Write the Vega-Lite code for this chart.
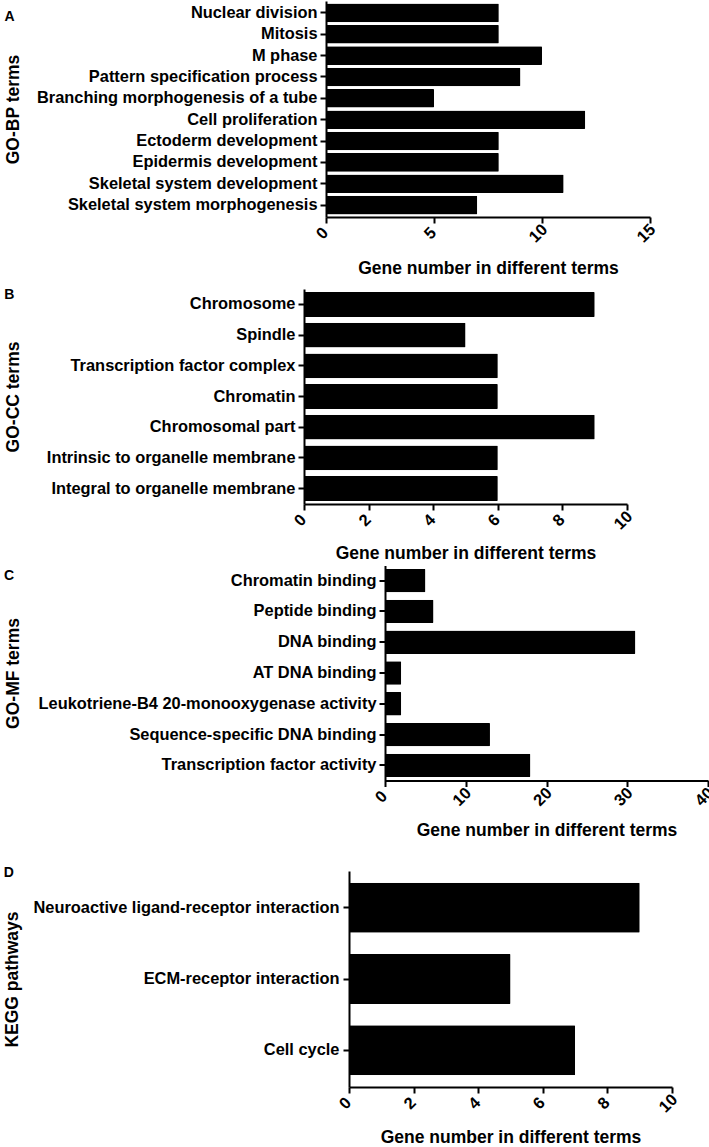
{
  "$schema": "https://vega.github.io/schema/vega-lite/v6.json",
  "padding": {"left": 3, "top": 1, "right": 0, "bottom": 0},
  "background": "white",
  "config": {
    "view": {"stroke": null},
    "font": "Liberation Sans",
    "axis": {
      "grid": false,
      "domainColor": "black",
      "domainWidth": 2,
      "tickColor": "black",
      "tickWidth": 2,
      "tickSize": 6,
      "labelColor": "black",
      "labelFont": "Liberation Sans",
      "labelFontWeight": "bold",
      "labelFontSize": 16.4,
      "titleColor": "black",
      "titleFont": "Liberation Sans",
      "titleFontWeight": "bold",
      "titleFontSize": 17.5
    },
    "axisY": {"labelPadding": 3, "labelLimit": 600, "maxExtent": 600},
    "axisX": {"labelAngle": -45, "labelAlign": "center", "labelBaseline": "middle", "labelOffset": -4, "labelPadding": 10},
    "title": {"anchor": "start", "frame": "bounds", "fontSize": 14, "fontWeight": "bold", "font": "Liberation Sans", "color": "black"}
  },
  "columns": 1,
  "spacing": 10,
  "concat": [
    {
      "width": 346,
      "height": 216,
      "title": {"text": "A", "offset": -23},
      "data": {"values": [
        {"term": "Nuclear division", "genes": 8},
        {"term": "Mitosis", "genes": 8},
        {"term": "M phase", "genes": 10},
        {"term": "Pattern specification process", "genes": 9},
        {"term": "Branching morphogenesis of a tube", "genes": 5},
        {"term": "Cell proliferation", "genes": 12},
        {"term": "Ectoderm development", "genes": 8},
        {"term": "Epidermis development", "genes": 8},
        {"term": "Skeletal system development", "genes": 11},
        {"term": "Skeletal system morphogenesis", "genes": 7}
      ]},
      "mark": {"type": "bar", "color": "black", "cornerRadiusEnd": 1},
      "encoding": {
        "y": {"field": "term", "type": "nominal", "sort": null, "title": "GO-BP terms",
              "scale": {"paddingInner": 0.13, "paddingOuter": 0.12},
              "axis": {"titlePadding": 14, "offset": -22}},
        "x": {"field": "genes", "type": "quantitative", "title": "Gene number in different terms",
              "scale": {"domain": [0, 15], "nice": false, "range": [22, 346]},
              "axis": {"values": [0, 5, 10, 15], "titlePadding": 14.5}}
      }
    },
    {
      "columns": 1,
      "spacing": 3.5,
      "concat": [
        {
          "width": 323,
          "height": 215,
          "title": {"text": "B", "offset": -13},
          "data": {"values": [
            {"term": "Chromosome", "genes": 9},
            {"term": "Spindle", "genes": 5},
            {"term": "Transcription factor complex", "genes": 6},
            {"term": "Chromatin", "genes": 6},
            {"term": "Chromosomal part", "genes": 9},
            {"term": "Intrinsic to organelle membrane", "genes": 6},
            {"term": "Integral to organelle membrane", "genes": 6}
          ]},
          "mark": {"type": "bar", "color": "black", "cornerRadiusEnd": 1},
          "encoding": {
            "y": {"field": "term", "type": "nominal", "sort": null, "title": "GO-CC terms",
                  "scale": {"paddingInner": 0.19, "paddingOuter": 0.1},
                  "axis": {"titlePadding": 24}},
            "x": {"field": "genes", "type": "quantitative", "title": "Gene number in different terms",
                  "scale": {"domain": [0, 10], "nice": false},
                  "axis": {"values": [0, 2, 4, 6, 8, 10], "titlePadding": 11.7}}
          }
        },
        {
          "columns": 1,
          "spacing": 26.5,
          "concat": [
            {
              "width": 404,
              "height": 215,
              "title": {"text": "C", "offset": -17},
              "data": {"values": [
                {"term": "Chromatin binding", "genes": 5},
                {"term": "Peptide binding", "genes": 6},
                {"term": "DNA binding", "genes": 31},
                {"term": "AT DNA binding", "genes": 2},
                {"term": "Leukotriene-B4 20-monooxygenase activity", "genes": 2},
                {"term": "Sequence-specific DNA binding", "genes": 13},
                {"term": "Transcription factor activity", "genes": 18}
              ]},
              "mark": {"type": "bar", "color": "black", "cornerRadiusEnd": 1},
              "encoding": {
                "y": {"field": "term", "type": "nominal", "sort": null, "title": "GO-MF terms",
                      "scale": {"paddingInner": 0.24, "paddingOuter": 0.11},
                      "axis": {"titlePadding": 16, "offset": -81}},
                "x": {"field": "genes", "type": "quantitative", "title": "Gene number in different terms",
                      "scale": {"domain": [0, 40], "nice": false, "range": [81, 404]},
                      "axis": {"values": [0, 10, 20, 30, 40], "titlePadding": 13}}
              }
            },
            {
              "width": 368,
              "height": 216,
              "title": {"text": "D", "offset": -9},
              "data": {"values": [
                {"term": "Neuroactive ligand-receptor interaction", "genes": 9},
                {"term": "ECM-receptor interaction", "genes": 5},
                {"term": "Cell cycle", "genes": 7}
              ]},
              "mark": {"type": "bar", "color": "black", "cornerRadiusEnd": 1},
              "encoding": {
                "y": {"field": "term", "type": "nominal", "sort": null, "title": "KEGG pathways",
                      "scale": {"paddingInner": 0.3, "paddingOuter": 0.166},
                      "axis": {"titlePadding": 11.3, "offset": -45, "labelPadding": 4}},
                "x": {"field": "genes", "type": "quantitative", "title": "Gene number in different terms",
                      "scale": {"domain": [0, 10], "nice": false, "range": [45, 368]},
                      "axis": {"values": [0, 2, 4, 6, 8, 10], "titlePadding": 13}}
              }
            }
          ]
        }
      ]
    }
  ]
}
